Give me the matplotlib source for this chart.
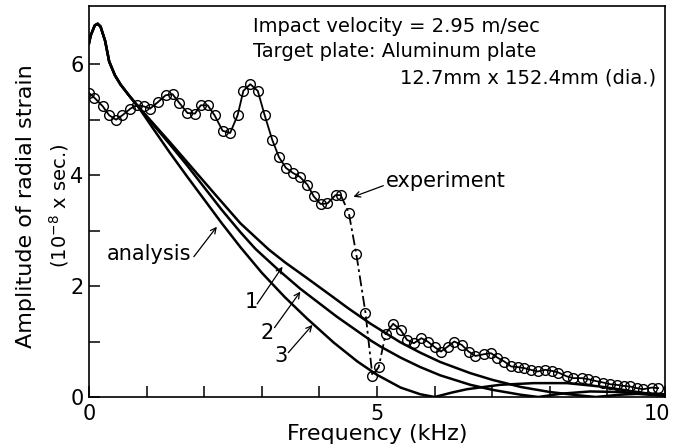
import matplotlib
matplotlib.use('Agg')
import matplotlib.pyplot as plt
from matplotlib.transforms import ScaledTranslation

# experiment (circles)
freq_exp = [0.0, 0.09, 0.24, 0.35, 0.47, 0.58, 0.72, 0.83, 0.95, 1.06, 1.2, 1.33, 1.45, 1.57,
            1.71, 1.84, 1.94, 2.06, 2.18, 2.32, 2.45, 2.58, 2.68, 2.8, 2.93, 3.05, 3.18, 3.3,
            3.42, 3.54, 3.66, 3.79, 3.9, 4.02, 4.14, 4.28, 4.37, 4.51, 4.64, 4.8, 4.92, 5.03,
            5.15, 5.28, 5.41, 5.52, 5.64, 5.77, 5.88, 6.0, 6.11, 6.23, 6.34, 6.47, 6.59, 6.71,
            6.85, 6.98, 7.09, 7.21, 7.33, 7.44, 7.56, 7.67, 7.79, 7.92, 8.04, 8.15, 8.3, 8.41,
            8.56, 8.67, 8.79, 8.93, 9.05, 9.16, 9.28, 9.39, 9.51, 9.62, 9.77, 9.88]
amp_exp = [5.48, 5.40, 5.24, 5.08, 5.00, 5.08, 5.20, 5.26, 5.24, 5.20, 5.32, 5.44, 5.46, 5.30,
           5.12, 5.11, 5.26, 5.26, 5.08, 4.80, 4.76, 5.08, 5.52, 5.64, 5.52, 5.08, 4.64, 4.32,
           4.13, 4.04, 3.97, 3.83, 3.62, 3.48, 3.49, 3.64, 3.64, 3.32, 2.58, 1.52, 0.38, 0.54,
           1.14, 1.32, 1.21, 1.03, 0.97, 1.06, 1.00, 0.90, 0.82, 0.91, 1.00, 0.94, 0.82, 0.74,
           0.77, 0.79, 0.71, 0.64, 0.55, 0.54, 0.52, 0.49, 0.46, 0.49, 0.47, 0.44, 0.37, 0.34,
           0.34, 0.32, 0.29, 0.26, 0.23, 0.22, 0.20, 0.19, 0.16, 0.14, 0.17, 0.16]

# analysis curves 1, 2, 3 (same start, spread after ~1 kHz)
freq_start = [0, 0.03, 0.1, 0.15, 0.2, 0.28, 0.35, 0.45, 0.55, 0.7, 0.85]
amp_start = [6.38, 6.52, 6.70, 6.73, 6.68, 6.42, 6.05, 5.80, 5.63, 5.43, 5.24]

freq_an1 = freq_start + [1.1, 1.4, 1.7, 2.0, 2.2, 2.63, 3.12, 3.4, 3.79, 4.2, 4.5, 4.89, 5.4,
                         5.75, 6.1, 6.62, 7.0, 7.5, 8.0, 8.5, 8.8, 9.2, 9.6, 10]
amp_an1 = amp_start + [4.95, 4.60, 4.24, 3.88, 3.64, 3.13, 2.66, 2.43, 2.14, 1.83, 1.60, 1.32,
                       0.99, 0.80, 0.63, 0.43, 0.31, 0.18, 0.09, 0.03, 0.0, 0.04, 0.06, 0.05]
freq_an2 = freq_start + [1.1, 1.4, 1.7, 2.0, 2.3, 2.63, 2.89, 3.3, 3.67, 4.3, 4.89, 5.06, 5.41,
                         5.75, 6.1, 6.62, 7.0, 7.5, 7.8, 8.2, 8.7, 9.2, 9.6, 10]
amp_an2 = amp_start + [4.93, 4.56, 4.18, 3.78, 3.38, 2.97, 2.67, 2.28, 1.95, 1.45, 1.02, 0.91,
                       0.71, 0.54, 0.39, 0.22, 0.13, 0.04, 0.0, 0.06, 0.10, 0.09, 0.05, 0.02]
freq_an3 = freq_start + [1.1, 1.4, 1.7, 2.0, 2.3, 2.63, 3.0, 3.4, 3.79, 4.25, 4.66, 5.0, 5.41,
                         5.75, 6.0, 6.3, 6.56, 7.14, 7.72, 8.3, 8.87, 9.45, 10]
amp_an3 = amp_start + [4.86, 4.41, 3.98, 3.56, 3.14, 2.70, 2.24, 1.80, 1.41, 0.98, 0.64, 0.40,
                       0.17, 0.05, 0.0, 0.08, 0.14, 0.22, 0.25, 0.25, 0.19, 0.10, 0.02]

fig = plt.figure(figsize=(6.73, 4.48), dpi=100)
ax = fig.add_axes([89/673, 1-397/448, (665-89)/673, (397-6)/448])

for fx, ay in [(freq_an1, amp_an1), (freq_an2, amp_an2), (freq_an3, amp_an3)]:
    ax.plot(fx, ay, color='black', lw=1.8, solid_joinstyle='round')

# experiment: solid, dash-dot over the big drop
i0 = freq_exp.index(4.37)
i1 = freq_exp.index(5.15)
ax.plot(freq_exp[:i0+1], amp_exp[:i0+1], color='black', lw=1.3)
ax.plot(freq_exp[i0:i1+1], amp_exp[i0:i1+1], color='black', lw=1.3, ls=(0, (6, 2, 1.5, 2)))
ax.plot(freq_exp[i1:], amp_exp[i1:], color='black', lw=1.3)
ax.plot(freq_exp, amp_exp, 'o', ms=7, mfc='none', mec='black', mew=1.0)

ax.set_xlim(0, 10)
ax.set_ylim(0, 7.05)
ax.set_xticks([0, 5, 10])
ax.set_xticks(range(1, 10), minor=True)
ax.set_yticks([0, 2, 4, 6])
ax.set_yticks([1, 3, 5], minor=True)
ax.tick_params(which='both', direction='in', length=8, width=1.1, labelsize=15)
ax.tick_params(axis='x', which='both', top=False, pad=5)
ax.tick_params(axis='y', which='both', right=False, pad=4)
for s in ax.spines.values():
    s.set_linewidth(1.2)

# keep the "10" inside the figure like in the original
fig.canvas.draw()
lab10 = ax.get_xticklabels()[-1]
lab10.set_transform(lab10.get_transform() + ScaledTranslation(-8/100, 0, fig.dpi_scale_trans))

ax.set_xlabel('Frequency (kHz)', fontsize=16, labelpad=0)
fig.text(26/673, 1-206/448, 'Amplitude of radial strain', rotation=90,
         ha='center', va='center', fontsize=16)
fig.text(59/673, 1-206/448, '(10$^{-8}$ x sec.)', rotation=90,
         ha='center', va='center', fontsize=14)

fig.text(253/673, 1-32/448, 'Impact velocity = 2.95 m/sec', fontsize=14, va='baseline')
fig.text(253/673, 1-57/448, 'Target plate: Aluminum plate', fontsize=14, va='baseline')
fig.text(656/673, 1-84/448, '12.7mm x 152.4mm (dia.)', fontsize=14, va='baseline', ha='right')

arrow = dict(arrowstyle='->', lw=0.9, color='black', shrinkA=0, shrinkB=0)
ax.annotate('', xy=(4.59, 3.61), xytext=(5.11, 3.81), arrowprops=arrow)
ax.text(5.16, 3.89, 'experiment', fontsize=15, va='center', ha='left')
ax.annotate('', xy=(2.22, 3.07), xytext=(1.82, 2.53), arrowprops=arrow)
ax.text(1.78, 2.57, 'analysis', fontsize=15, va='center', ha='right')

ax.annotate('', xy=(3.36, 2.35), xytext=(2.92, 1.68), arrowprops=arrow)
ax.text(2.81, 1.72, '1', fontsize=15, va='center', ha='center')
ax.annotate('', xy=(3.67, 1.90), xytext=(3.22, 1.25), arrowprops=arrow)
ax.text(3.10, 1.16, '2', fontsize=15, va='center', ha='center')
ax.annotate('', xy=(3.88, 1.30), xytext=(3.46, 0.80), arrowprops=arrow)
ax.text(3.34, 0.74, '3', fontsize=15, va='center', ha='center')

plt.savefig('out.png', dpi=100)
